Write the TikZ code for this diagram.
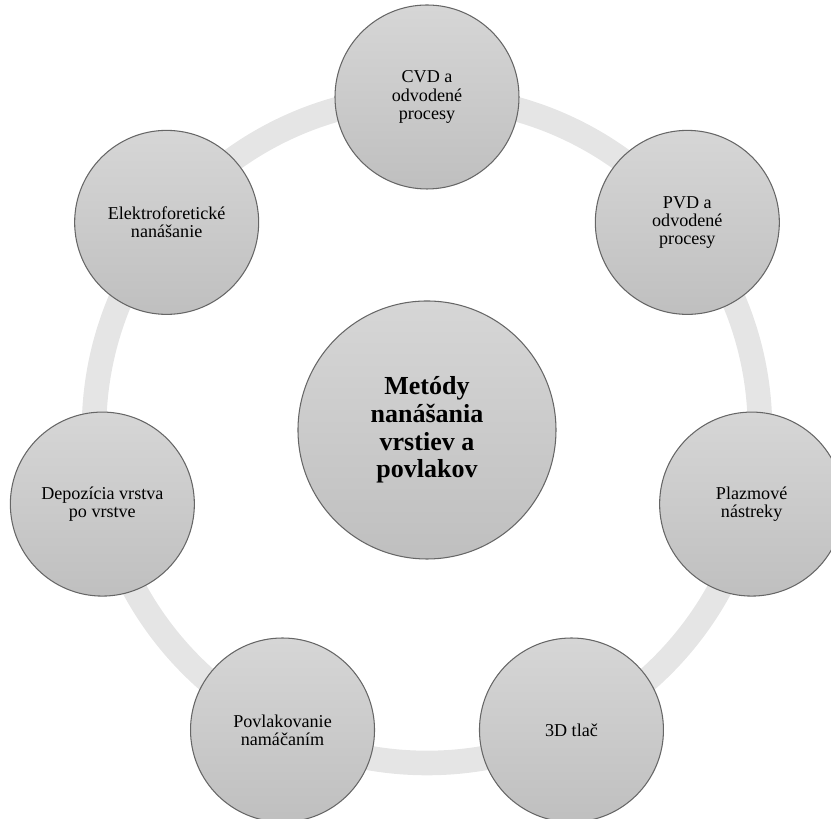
\documentclass[tikz,border=0pt]{standalone}
\usepackage{fontspec}
\setmainfont{Liberation Serif}
\usetikzlibrary{calc}

\begin{document}
\begin{tikzpicture}
    \clip (-8.54,8.6) rectangle (8.08,-7.78);
    \useasboundingbox (-8.54,8.6) rectangle (8.08,-7.78);

    \tikzstyle{ring} = [draw=black!10, line width=14pt]
    \tikzstyle{ball} = [circle, draw=black!60, line width=0.6pt, top color=black!16, bottom color=black!25, align=center, inner sep=0pt]
    \tikzstyle{small} = [ball, minimum size=3.68cm, font=\fontsize{10.3}{10.4}\selectfont]
    \tikzstyle{big} = [ball, minimum size=5.16cm, font=\fontsize{14.8}{15.8}\selectfont\bfseries]

    \coordinate (o) at (0,0);
    \draw[ring] (o) circle (6.66);

    \node[big] (mid) at (o) {Metódy\\nanášania\\vrstiev a\\povlakov};

    \foreach \i/\txt in {1/{CVD a\\odvodené\\procesy},
                         2/{PVD a\\odvodené\\procesy},
                         3/{Plazmové\\nástreky},
                         4/{3D tlač},
                         5/{Povlakovanie\\namáčaním},
                         6/{Depozícia vrstva\\po vrstve},
                         7/{Elektroforetické\\nanášanie}} {
        \node[small] (s\i) at ({90-(\i-1)*360/7}:6.66) {\txt};
    }
\end{tikzpicture}
\end{document}
